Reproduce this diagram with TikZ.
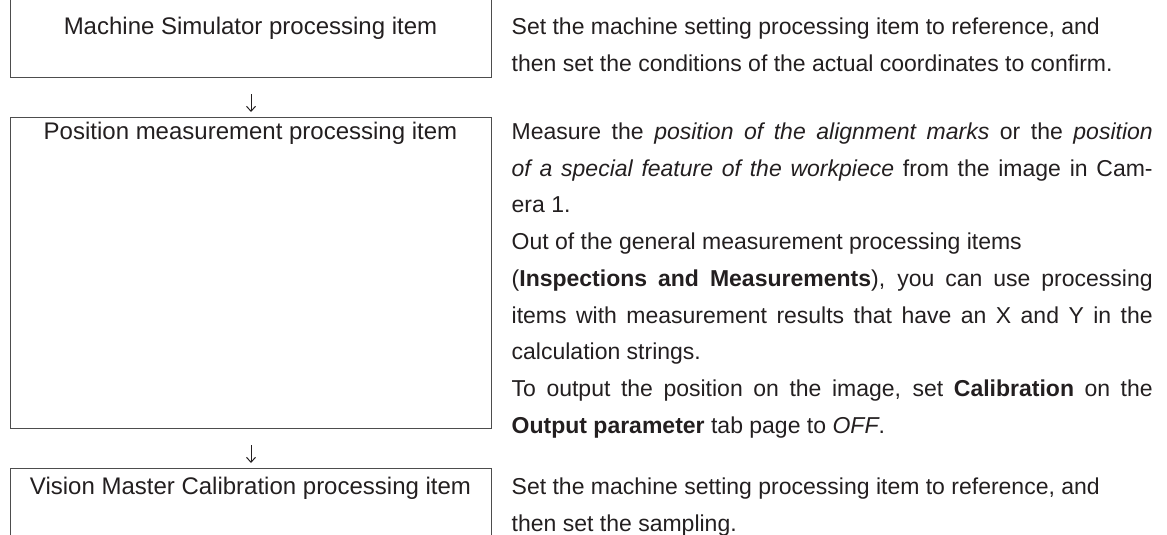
\documentclass[tikz,border=0pt]{standalone}
\usepackage{fontspec}
\setmainfont{Liberation Sans}
\usetikzlibrary{arrows.meta}
\definecolor{txt}{HTML}{231F20}
\definecolor{rule}{HTML}{4D4D4D}
\newcommand{\desctext}[1]{\parbox[t]{641pt}{\parindent=0pt\parskip=0pt #1}}
\begin{document}
\begin{tikzpicture}[x=1pt,y=-1pt,
  box/.style={draw=rule, line width=1pt, inner sep=0pt, anchor=north west},
  title/.style={inner sep=0pt, anchor=base, text=txt, font=\fontsize{24}{36.7}\selectfont},
  desc/.style={inner sep=0pt, anchor=base west, text=txt, font=\fontsize{23}{36.7}\selectfont},
  flow/.style={draw=txt, line width=1pt, -{Straight Barb[length=5pt,width=9pt]}, shorten <=16pt, shorten >=5pt}]
\useasboundingbox (0,0) rectangle (1167,535);
% boxes
\node[box, minimum width=481pt, minimum height=107pt] (b1) at (10,-30) {};
\node[box, minimum width=481pt, minimum height=311pt] (b2) at (10,117) {};
\node[box, minimum width=481pt, minimum height=120pt] (b3) at (10,468) {};
% titles
\node[title] (t1) at (250.5,35) {Machine Simulator processing item};
\node[title] (t2) at (250.5,139.5) {Position measurement processing item};
\node[title] (t3) at (250.5,494.5) {Vision Master Calibration processing item};
% arrows
\draw[flow] (b1.south) -- (b2.north);
\draw[flow] (b2.south) -- (b3.north);
% descriptions
\node[desc] (d1) at (511.5,35) {\desctext{Set the machine setting processing item to reference, and\newline
then set the conditions of the actual coordinates to confirm.}};
\node[desc] (d2) at (511.5,139.5) {\desctext{Measure the \textit{position of the alignment marks} or the \textit{position}\linebreak
\textit{of a special feature of the workpiece} from the image in Cam-\linebreak
era 1.\par
Out of the general measurement processing items\newline
(\textbf{Inspections and Measurements}), you can use processing\linebreak
items with measurement results that have an X and Y in the\linebreak
calculation strings.\par
To output the position on the image, set \textbf{Calibration} on the\linebreak
\textbf{Output parameter} tab page to \textit{OFF}.}};
\node[desc] (d3) at (511.5,494.5) {\desctext{Set the machine setting processing item to reference, and\newline
then set the sampling.}};
\end{tikzpicture}
\end{document}
